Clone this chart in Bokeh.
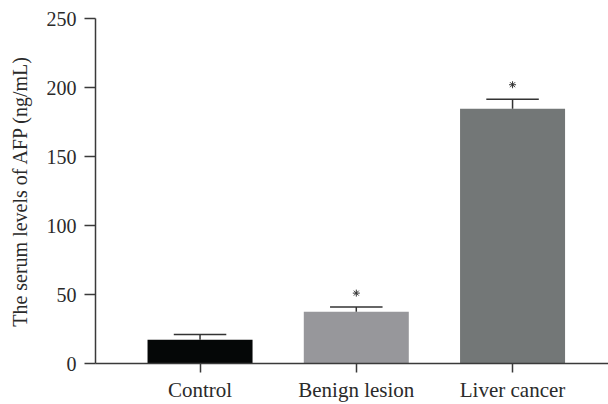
from bokeh.plotting import figure
from bokeh.models import ColumnDataSource, Range1d, FixedTicker
from bokeh.embed import file_html
from bokeh.resources import INLINE

categories = ["Control", "Benign lesion", "Liver cancer"]
means = [17.3, 37.5, 184.6]
errors = [3.8, 3.4, 6.8]
sig_y = [None, 51, 202]
colors = ["#050707", "#97979b", "#737777"]
y_ticks = [0, 50, 100, 150, 200, 250]

xs = list(range(len(categories)))
upper = [m + e for m, e in zip(means, errors)]
src = ColumnDataSource(dict(x=xs, top=means, upper=upper, color=colors,
                            cap0=[x - 0.168 for x in xs], cap1=[x + 0.168 for x in xs]))

p = figure(width=608, height=404, output_backend="svg", toolbar_location=None,
           x_range=Range1d(-0.669, 2.614), y_range=Range1d(0, 250),
           min_border_left=95, min_border_top=18, min_border_right=0, min_border_bottom=40)
p.outline_line_color = None
p.grid.visible = False
p.background_fill_color = "white"
p.border_fill_color = "white"

p.vbar(x="x", top="top", width=0.672, fill_color="color", line_color=None, source=src)
p.segment(x0="x", y0="top", x1="x", y1="upper", line_color="#333333", line_width=1.5, source=src)
p.segment(x0="cap0", y0="upper", x1="cap1", y1="upper", line_color="#333333", line_width=1.5, source=src)

sx = [x for x, s in zip(xs, sig_y) if s is not None]
sy = [s for s in sig_y if s is not None]
p.scatter(sx, sy, marker="asterisk", size=7, line_color="#333333", line_width=1)

font = "Liberation Serif"
txt = "#2a2a2a"

p.xaxis.ticker = FixedTicker(ticks=xs)
p.xaxis.major_label_overrides = {i: c for i, c in enumerate(categories)}
p.xaxis.major_label_text_font = font
p.xaxis.major_label_text_font_size = "21px"
p.xaxis.major_label_text_color = txt
p.xaxis.major_label_standoff = 5
p.xaxis.major_tick_out = 9
p.xaxis.major_tick_in = 0
p.xaxis.minor_tick_line_color = None

p.yaxis.ticker = FixedTicker(ticks=y_ticks)
p.yaxis.major_label_text_font = font
p.yaxis.major_label_text_font_size = "20px"
p.yaxis.major_label_text_color = txt
p.yaxis.major_label_standoff = 8
p.yaxis.major_tick_out = 11
p.yaxis.major_tick_in = 0
p.yaxis.minor_tick_line_color = None
p.yaxis.axis_label = "The serum levels of AFP (ng/mL)"
p.yaxis.axis_label_text_font = font
p.yaxis.axis_label_text_font_size = "20px"
p.yaxis.axis_label_text_font_style = "normal"
p.yaxis.axis_label_text_color = txt
p.yaxis.axis_label_standoff = 13

for ax in (p.xaxis, p.yaxis):
    ax.axis_line_color = "#3a3a3a"
    ax.axis_line_width = 1.5
    ax.major_tick_line_color = "#3a3a3a"
    ax.major_tick_line_width = 1.5

open("out.html", "w").write(file_html(p, INLINE))
